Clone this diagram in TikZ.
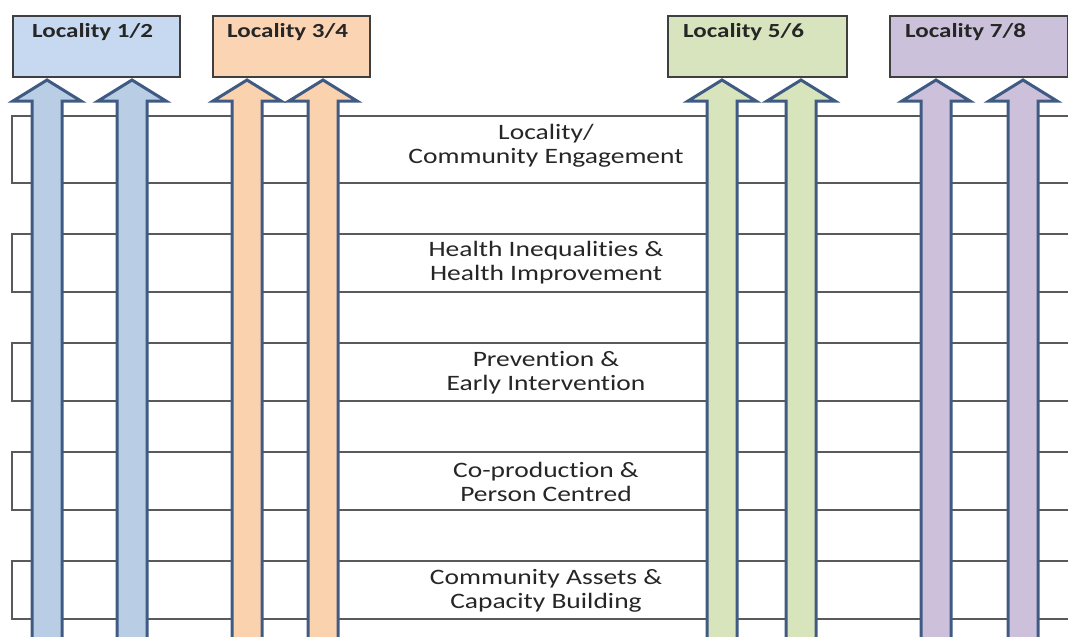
\documentclass[tikz,border=0pt]{standalone}
\usepackage{fontspec}
\setmainfont{Carlito}[FakeStretch=1.25, Ligatures=CommonOff]
\definecolor{boxblue}{HTML}{C6D9F1}
\definecolor{boxorange}{HTML}{FBD4B4}
\definecolor{boxgreen}{HTML}{D7E4BD}
\definecolor{boxpurple}{HTML}{CCC1DA}
\definecolor{arrblue}{HTML}{B9CDE5}
\definecolor{arrorange}{HTML}{FAD2AE}
\definecolor{arrgreen}{HTML}{D8E4BC}
\definecolor{arrpurple}{HTML}{CCC0DA}
\definecolor{arredge}{HTML}{3F5B84}
\definecolor{boxedge}{HTML}{3F3F3F}
\definecolor{rowedge}{HTML}{5A5A5A}
\definecolor{txt}{HTML}{262626}
\begin{document}
\begin{tikzpicture}[x=1pt,y=-1pt,
  locbox/.style={draw=boxedge, line width=1.5pt, rectangle, inner sep=0pt, anchor=north west},
  loclab/.style={anchor=base west, inner sep=0pt, text=txt, font=\bfseries\fontsize{20}{22}\selectfont},
  rowtext/.style={align=center, inner sep=0pt, text=txt, font=\fontsize{22}{24}\selectfont},
  rowline/.style={draw=rowedge, line width=1.5pt},
  blockarrow/.style={draw=arredge, line width=3pt, line join=miter}]
\useasboundingbox (0,0) rectangle (1068,637);
\clip (0,0) rectangle (1068,637);
\fill[white] (0,0) rectangle (1068,637);
% rows
\foreach \t/\b in {116/183, 234/292, 343/401, 452/510, 561/619}{
  \draw[rowline] (1075,\t) -- (12,\t) -- (12,\b) -- (1075,\b);
}
\node[rowtext] (r1) at (546,146) {Locality/\\Community Engagement};
\node[rowtext] (r2) at (546,263) {Health Inequalities \&\\Health Improvement};
\node[rowtext] (r3) at (546,373) {Prevention \&\\Early Intervention};
\node[rowtext] (r4) at (546,482) {Co-production \&\\Person Centred};
\node[rowtext] (r5) at (546,591) {Community Assets \&\\Capacity Building};
% locality boxes
\node[locbox, fill=boxblue, minimum width=167pt, minimum height=61pt] (b12) at (12,15) {};
\node[locbox, fill=boxorange, minimum width=157pt, minimum height=61pt] (b34) at (212,15) {};
\node[locbox, fill=boxgreen, minimum width=179pt, minimum height=61pt] (b56) at (667,15) {};
\node[locbox, fill=boxpurple, minimum width=178pt, minimum height=61pt] (b78) at (889,15) {};
\node[loclab] (l12) at (32,37) {Locality 1/2};
\node[loclab] (l34) at (227,37) {Locality 3/4};
\node[loclab] (l56) at (683,37) {Locality 5/6};
\node[loclab] (l78) at (905,37) {Locality 7/8};
% block arrows
\foreach \c/\col in {47/arrblue, 132/arrblue, 247/arrorange, 323/arrorange,
                     722/arrgreen, 801/arrgreen, 936/arrpurple, 1023/arrpurple}{
  \draw[blockarrow, fill=\col] (\c,80) -- (\c+34,101) -- (\c+15,101) -- (\c+15,660)
     -- (\c-15,660) -- (\c-15,101) -- (\c-34,101) -- cycle;
}
\end{tikzpicture}
\end{document}
